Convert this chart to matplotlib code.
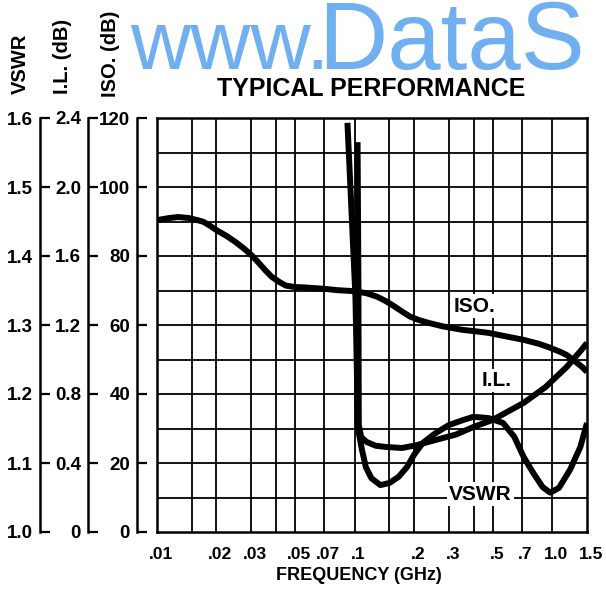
#典型性能曲线 (VSWR / I.L. / ISO.)
import matplotlib.pyplot as plt
import numpy as np
from matplotlib.ticker import NullLocator, NullFormatter
from matplotlib.transforms import ScaledTranslation

plt.rcParams['font.family'] = ['Liberation Sans', 'DejaVu Sans']
plt.rcParams['font.weight'] = 'bold'

# ISO. (dB)
iso_freq = [0.01, 0.0115, 0.0128, 0.0145, 0.016, 0.0172, 0.0185, 0.02, 0.0225, 0.0249,
            0.0275, 0.03, 0.0325, 0.0353, 0.038, 0.0415, 0.045, 0.05, 0.0555, 0.07,
            0.0817, 0.1, 0.115, 0.13, 0.143, 0.157, 0.175, 0.19, 0.21, 0.237,
            0.28, 0.351, 0.42, 0.478, 0.55, 0.716, 0.85, 0.957, 1.1, 1.185,
            1.316, 1.42, 1.5]
iso_db = [90.4, 91.0, 91.3, 91.0, 90.4, 89.9, 88.8, 87.5, 85.8, 84.1,
          82.2, 80.3, 78.2, 75.9, 74.0, 72.5, 71.4, 71.0, 70.9, 70.5,
          70.1, 69.8, 69.2, 68.2, 67.0, 65.6, 63.8, 62.5, 61.5, 60.6,
          59.6, 58.6, 58.1, 57.7, 57.0, 55.7, 54.6, 53.6, 52.2, 51.3,
          49.3, 47.8, 46.4]

# I.L. (dB)
il_freq = [0.1035, 0.1045, 0.105, 0.108, 0.115, 0.128, 0.144, 0.174, 0.207, 0.256,
           0.326, 0.4, 0.5, 0.716, 0.925, 1.185, 1.405, 1.5]
il_db = [2.26, 1.48, 0.62, 0.55, 0.522, 0.50, 0.493, 0.487, 0.504, 0.533,
         0.565, 0.609, 0.65, 0.748, 0.84, 0.957, 1.055, 1.096]

# VSWR
vswr_freq = [0.092, 0.101, 0.104, 0.109, 0.114, 0.1216, 0.135, 0.15, 0.167, 0.184,
             0.2, 0.221, 0.256, 0.3, 0.352, 0.4, 0.478, 0.564, 0.643, 0.716,
             0.80, 0.895, 0.978, 1.082, 1.23, 1.387, 1.5]
vswr_val = [1.593, 1.34, 1.15, 1.119, 1.094, 1.078, 1.068, 1.071, 1.080, 1.094,
            1.112, 1.129, 1.143, 1.155, 1.162, 1.167, 1.165, 1.158, 1.138, 1.109,
            1.086, 1.065, 1.057, 1.064, 1.09, 1.123, 1.158]

x_ticks = [0.01, 0.02, 0.03, 0.05, 0.07, 0.1, 0.2, 0.3, 0.5, 0.7, 1.0, 1.5]
x_tick_labels = ['.01', '.02', '.03', '.05', '.07', '.1', '.2', '.3', '.5', '.7', '1.0', '1.5']
x_grid = [0.015, 0.02, 0.03, 0.04, 0.05, 0.07, 0.1, 0.15, 0.2, 0.3, 0.4, 0.5, 0.7, 1.0]

vswr_ticks = [1.0, 1.1, 1.2, 1.3, 1.4, 1.5, 1.6]
vswr_labels = ['1.0', '1.1', '1.2', '1.3', '1.4', '1.5', '1.6']
il_ticks = [0, 0.4, 0.8, 1.2, 1.6, 2.0, 2.4]
il_labels = ['0', '0.4', '0.8', '1.2', '1.6', '2.0', '2.4']
iso_ticks = [0, 20, 40, 60, 80, 100, 120]
iso_labels = ['0', '20', '40', '60', '80', '100', '120']

W, H = 606, 589
fig = plt.figure(figsize=(W / 100, H / 100), dpi=100)

# 主图区 (纵轴按 ISO 刻度 0-120)
ax = fig.add_axes([157 / W, 57 / H, 430 / W, 414 / H])
ax.set_xscale('log')
ax.set_xlim(0.01, 1.5)
ax.set_ylim(0, 120)
for g in x_grid:
    ax.axvline(g, color='black', lw=1.3, zorder=1)
for yv in range(10, 120, 10):
    ax.axhline(yv, color='black', lw=1.3, zorder=1)
for s in ax.spines.values():
    s.set_linewidth(1.8)

ax.xaxis.set_minor_locator(NullLocator())
ax.xaxis.set_minor_formatter(NullFormatter())
ax.set_xticks(x_ticks)
ax.set_xticklabels(x_tick_labels)
ax.tick_params(axis='x', length=0, pad=11, labelsize=12.5)
for lab in ax.get_xticklabels():
    lab.set_transform(lab.get_transform() + ScaledTranslation(4 / 100, 0, fig.dpi_scale_trans))
ax.set_yticks([])

# 曲线 (I.L. 与 VSWR 换算到 ISO 刻度)
lw = 4.3
style = dict(color='black', lw=lw, solid_capstyle='butt', solid_joinstyle='round', zorder=3)
ax.plot(iso_freq, iso_db, **style)
ax.plot(il_freq, np.array(il_db) * 50, **style)
ax.plot(vswr_freq, (np.array(vswr_val) - 1) * 200, **style)

box = dict(facecolor='white', edgecolor='none', pad=1.5)
ax.text(0.405, 65.5, 'ISO.', fontsize=15, ha='center', va='center', bbox=box, zorder=4)
ax.text(0.524, 43.8, 'I.L.', fontsize=15, ha='center', va='center', bbox=box, zorder=4)
ax.text(0.432, 11.0, 'VSWR', fontsize=15, ha='center', va='center', bbox=box, zorder=4)

# 左侧三条刻度轴
def sideAxis(xpx, lo, hi, ticks, labels):
    a = fig.add_axes([xpx / W, 57 / H, 0.0001, 414 / H])
    a.set_ylim(lo, hi)
    a.patch.set_visible(False)
    for k in ['top', 'right', 'bottom']:
        a.spines[k].set_visible(False)
    a.spines['left'].set_linewidth(1.8)
    a.set_xticks([])
    a.set_yticks(ticks)
    a.set_yticklabels(labels)
    a.tick_params(axis='y', direction='in', length=7, width=1.6, pad=5, labelsize=13.5)
    return a

sideAxis(40, 1.0, 1.6, vswr_ticks, vswr_labels)
sideAxis(88, 0, 2.4, il_ticks, il_labels)
sideAxis(137, 0, 120, iso_ticks, iso_labels)

# 文字
fig.text(20 / W, 1 - 94 / H, 'VSWR', rotation=90, fontsize=14.5, ha='center', va='bottom')
fig.text(63 / W, 1 - 94 / H, 'I.L. (dB)', rotation=90, fontsize=14.5, ha='center', va='bottom')
fig.text(110 / W, 1 - 97 / H, 'ISO. (dB)', rotation=90, fontsize=14.5, ha='center', va='bottom')
fig.text(371 / W, 1 - 88.5 / H, 'TYPICAL PERFORMANCE', fontsize=18, ha='center', va='center')
fig.text(359 / W, 1 - 575 / H, 'FREQUENCY (GHz)', fontsize=13, ha='center', va='center')

# 扫描件上的水印
wm = dict(fontweight='normal', color='#70aff0', ha='left', va='baseline', zorder=0)
fig.text(130 / W, 1 - 69 / H, 'www.', fontsize=60, **wm)
fig.text(318 / W, 1 - 69 / H, 'DataS', fontsize=69, **wm)

fig.savefig('out.png', dpi=100)
